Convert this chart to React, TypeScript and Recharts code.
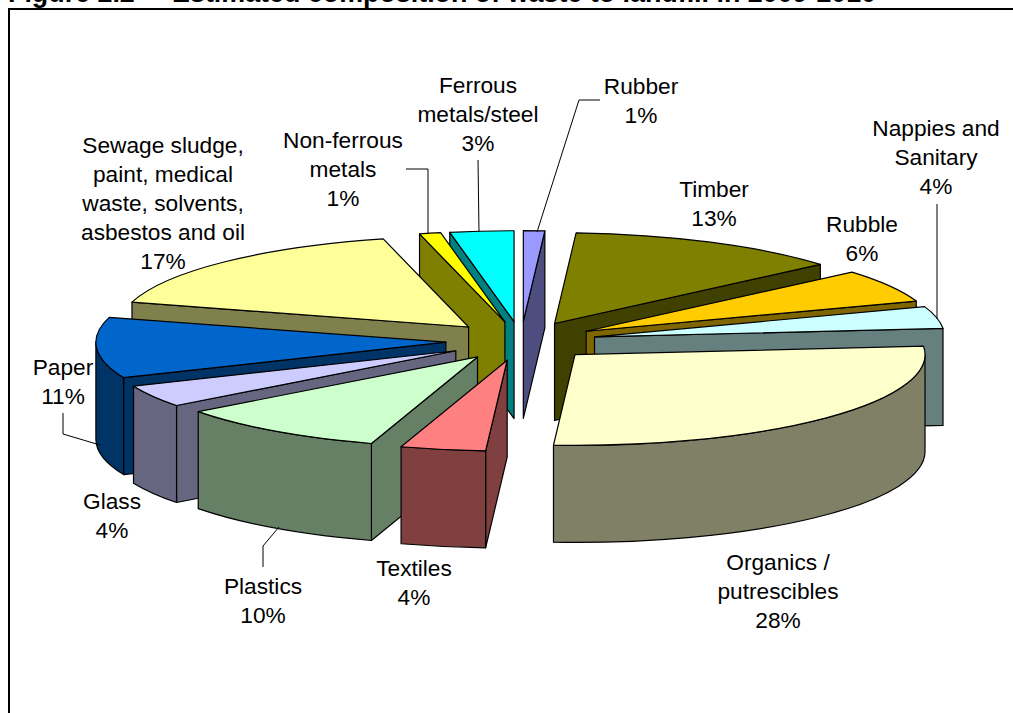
import React from "react";
import { PieChart, Pie } from "recharts";

const categories = ["Rubber","Timber","Rubble","Nappies and Sanitary","Organics / putrescibles","Textiles","Plastics","Glass","Paper","Sewage sludge, paint, medical waste, solvents, asbestos and oil","Non-ferrous metals","Ferrous metals/steel"];
const values = [1,13,6,4,28,4,10,4,11,17,1,3];
const colors = ["#9999FF","#808000","#FFCC00","#CCFFFF","#FFFFCC","#FF8080","#CCFFCC","#CCCCFF","#0066CC","#FFFF99","#FFFF00","#00FFFF"];

const rightHalf = categories.slice(0, 5);

const labelLines: Record<string, string[]> = {
  "Rubber": ["Rubber"],
  "Timber": ["Timber"],
  "Rubble": ["Rubble"],
  "Nappies and Sanitary": ["Nappies and", "Sanitary"],
  "Organics / putrescibles": ["Organics /", "putrescibles"],
  "Textiles": ["Textiles"],
  "Plastics": ["Plastics"],
  "Glass": ["Glass"],
  "Paper": ["Paper"],
  "Sewage sludge, paint, medical waste, solvents, asbestos and oil": ["Sewage sludge,", "paint, medical", "waste, solvents,", "asbestos and oil"],
  "Non-ferrous metals": ["Non-ferrous", "metals"],
  "Ferrous metals/steel": ["Ferrous", "metals/steel"],
};
// label anchor: centre x, first baseline y
const labelAt: Record<string, [number, number]> = {
  "Rubber": [641, 94],
  "Timber": [714, 197],
  "Rubble": [862, 232],
  "Nappies and Sanitary": [936, 136],
  "Organics / putrescibles": [778, 570],
  "Textiles": [414, 576],
  "Plastics": [263, 594],
  "Glass": [112, 509],
  "Paper": [63, 375],
  "Sewage sludge, paint, medical waste, solvents, asbestos and oil": [163, 153],
  "Non-ferrous metals": [343, 148],
  "Ferrous metals/steel": [478, 93],
};
const leaders: Record<string, string> = {
  "Rubber": "M600,100 L579,100 L537,232",
  "Nappies and Sanitary": "M937,204 L937,319",
  "Plastics": "M263,567 L263,546 L279,527",
  "Paper": "M63,413 L63,434 L100,445",
  "Non-ferrous metals": "M406,169 L428,169 L428,234",
  "Ferrous metals/steel": "M478,160 L479,232",
};

const SQUASH = 0.2595;
const EXPLODE = 0.215;
const DEPTH = 97;
const FONT = "'Liberation Sans', Arial, sans-serif";

const dark = (hex: string) => {
  const n = parseInt(hex.slice(1), 16);
  const c = (s: number) => Math.round(((n >> s) & 255) / 2);
  return `rgb(${c(16)},${c(8)},${c(0)})`;
};
const rad = (d: number) => (d * Math.PI) / 180;

const Slice3D = (p: any) => {
  const { cx, cy, outerRadius: rx, startAngle, endAngle, fill, name, payload } = p;
  const nm = name ?? payload?.name;
  const a1 = 90 - Math.max(startAngle, endAngle);
  const a2 = 90 - Math.min(startAngle, endAngle);
  // normalise to clockwise-from-top degrees in 0..360
  const shift = a1 < -0.001 ? 360 : 0;
  const t1 = a1 + shift;
  const t2 = a2 + shift;
  const ry = rx * SQUASH;
  const mid = rad((t1 + t2) / 2);
  const ax = cx + EXPLODE * rx * Math.sin(mid);
  const ay = cy - EXPLODE * ry * Math.cos(mid);
  const pt = (t: number, dy = 0) => [ax + rx * Math.sin(rad(t)), ay - ry * Math.cos(rad(t)) + dy];
  const f = (q: number[]) => `${q[0].toFixed(2)},${q[1].toFixed(2)}`;
  const side = dark(fill);
  const stroke = { stroke: "#000", strokeWidth: 1.2, strokeLinejoin: "round" as const };
  const parts: React.ReactNode[] = [];
  const quad = (t: number, key: string) => {
    const q = pt(t);
    const d = `M${ax},${ay} L${f(q)} L${f(pt(t, DEPTH))} L${ax},${ay + DEPTH} Z`;
    parts.push(<path key={key} d={d} fill={side} {...stroke} />);
  };
  if (Math.sin(rad(t1)) < 0) quad(t1, "s");
  if (Math.sin(rad(t2)) > 0) quad(t2, "e");
  const w1 = Math.max(t1, 90);
  const w2 = Math.min(t2, 270);
  if (w2 > w1) {
    const d = `M${f(pt(w1))} A${rx},${ry} 0 0 1 ${f(pt(w2))} L${f(pt(w2, DEPTH))} A${rx},${ry} 0 0 0 ${f(pt(w1, DEPTH))} Z`;
    parts.push(<path key="w" d={d} fill={side} {...stroke} />);
  }
  const large = t2 - t1 > 180 ? 1 : 0;
  parts.push(
    <path key="t" d={`M${ax},${ay} L${f(pt(t1))} A${rx},${ry} 0 ${large} 1 ${f(pt(t2))} Z`} fill={fill} {...stroke} />
  );
  return <g data-name={nm}>{parts}</g>;
};

const RightShape = (p: any) => (rightHalf.includes(p.name ?? p.payload?.name) ? <Slice3D {...p} /> : <g />);
const LeftShape = (p: any) => (rightHalf.includes(p.name ?? p.payload?.name) ? <g /> : <Slice3D {...p} />);

const renderLabel = (p: any) => {
  const nm: string = p.name ?? p.payload?.name;
  const [x, y] = labelAt[nm];
  const lines = [...labelLines[nm], `${p.value}%`];
  return (
    <g key={nm}>
      {leaders[nm] && <path d={leaders[nm]} fill="none" stroke="#000" strokeWidth={1} />}
      <text x={x} textAnchor="middle" fontFamily={FONT} fontSize={22.7} fill="#000">
        {lines.map((l, i) => (
          <tspan key={i} x={x} y={y + i * 29}>{l}</tspan>
        ))}
      </text>
    </g>
  );
};

const rows = categories.map((name, i) => ({ name, value: values[i], fill: colors[i] }));
const rowsReversed = [...rows].reverse();

export default function App() {
  return (
    <div style={{ position: "fixed", left: 0, top: 0, width: 1013, height: 713, overflow: "hidden", background: "#fff" }}>
      <div style={{ position: "absolute", left: 8, top: -20, fontFamily: FONT, fontWeight: 700, fontSize: 26.85, whiteSpace: "pre", lineHeight: "26px" }}>
        {"Figure 2.2     Estimated composition of waste to landfill in 2009-2010"}
      </div>
      <div style={{ position: "absolute", left: 8, top: 8, width: 1100, height: 800, border: "2px solid #000" }} />
      <div style={{ position: "absolute", left: 0, top: 0 }}>
        <PieChart width={1013} height={713} margin={{ top: 0, right: 0, bottom: 0, left: 0 }}>
          <Pie data={rows} dataKey="value" nameKey="name" cx={521} cy={341} innerRadius={0} outerRadius={350}
            startAngle={90} endAngle={-270} paddingAngle={0} stroke="none" shape={RightShape}
            label={false} labelLine={false} isAnimationActive={false} />
          <Pie data={rowsReversed} dataKey="value" nameKey="name" cx={521} cy={341} innerRadius={0} outerRadius={350}
            startAngle={90} endAngle={450} paddingAngle={0} stroke="none" shape={LeftShape}
            label={renderLabel} labelLine={false} isAnimationActive={false} />
        </PieChart>
      </div>
    </div>
  );
}
